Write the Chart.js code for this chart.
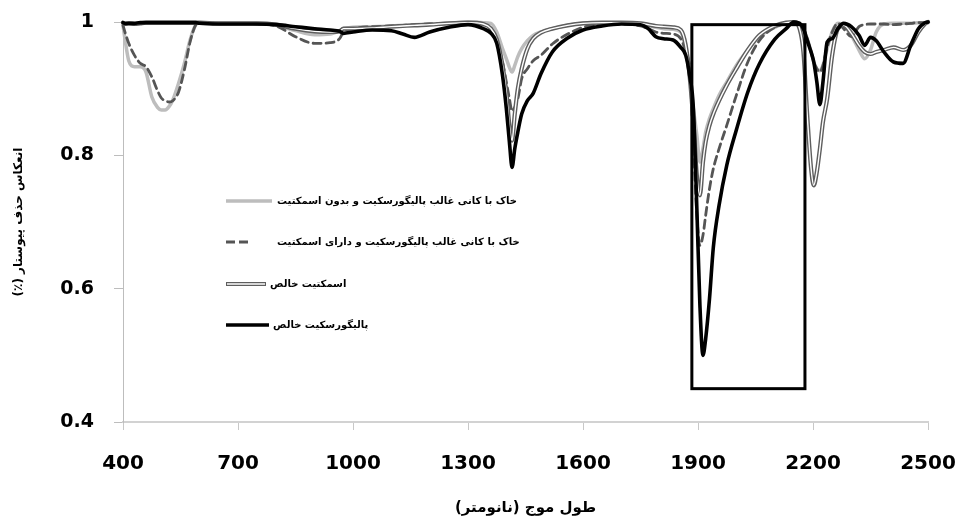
<!DOCTYPE html>
<html>
<head>
<meta charset="utf-8">
<script src="https://cdn.jsdelivr.net/npm/chart.js@4.4.0/dist/chart.umd.min.js"></script>
<style>
  html, body { margin: 0; padding: 0; background: #ffffff; }
  canvas { display: block; }
</style>
</head>
<body>
<canvas id="spectra" width="958" height="518"></canvas>
<script>
// Wavelength sampling grid (nm)
const wavelengths = [
  400, 405, 415, 430, 445, 460, 475, 490, 500, 510,
  520, 530, 545, 560, 575, 590, 600, 650, 700, 750,
  800, 850, 900, 940, 965, 975, 1000, 1050, 1100, 1130,
  1160, 1200, 1250, 1300, 1340, 1360, 1375, 1390, 1400, 1408,
  1415, 1422, 1430, 1440, 1455, 1470, 1490, 1520, 1560, 1600,
  1650, 1700, 1750, 1770, 1790, 1810, 1835, 1855, 1868, 1878,
  1888, 1897, 1905, 1913, 1920, 1930, 1940, 1955, 1975, 2000,
  2030, 2060, 2100, 2130, 2150, 2165, 2175, 2185, 2195, 2202,
  2210, 2218, 2226, 2237, 2250, 2265, 2280, 2300, 2320, 2335,
  2350, 2365, 2385, 2410, 2435, 2455, 2475, 2490, 2500
];

// Continuum-removed reflectance, soil dominated by palygorskite, no smectite
const soilNoSmectite = [
  0.995, 0.975, 0.942, 0.933, 0.933, 0.925, 0.888, 0.872, 0.868, 0.868,
  0.873, 0.883, 0.908, 0.938, 0.973, 0.996, 0.999, 0.998, 0.998, 0.998,
  0.995, 0.987, 0.981, 0.982, 0.987, 0.990, 0.992, 0.993, 0.994, 0.995,
  0.996, 0.997, 0.998, 1.000, 0.999, 0.998, 0.985, 0.960, 0.945, 0.932,
  0.925, 0.935, 0.948, 0.960, 0.972, 0.980, 0.985, 0.990, 0.995, 0.998,
  0.999, 0.999, 0.997, 0.995, 0.992, 0.990, 0.989, 0.985, 0.960, 0.920,
  0.870, 0.830, 0.790, 0.810, 0.835, 0.855, 0.870, 0.890, 0.910, 0.935,
  0.958, 0.978, 0.992, 0.998, 1.000, 0.998, 0.990, 0.975, 0.955, 0.940,
  0.930, 0.927, 0.935, 0.960, 0.985, 0.998, 0.995, 0.980, 0.958, 0.945,
  0.958, 0.985, 0.997, 0.998, 0.998, 0.998, 0.999, 0.999, 1.000
];

// Soil dominated by palygorskite, containing smectite
const soilWithSmectite = [
  0.995, 0.985, 0.968, 0.950, 0.938, 0.933, 0.918, 0.897, 0.886, 0.882,
  0.880, 0.882, 0.895, 0.928, 0.970, 0.996, 0.999, 0.998, 0.998, 0.997,
  0.994, 0.978, 0.968, 0.969, 0.975, 0.985, 0.990, 0.993, 0.994, 0.995,
  0.996, 0.997, 0.998, 0.999, 0.996, 0.990, 0.972, 0.940, 0.910, 0.885,
  0.866, 0.872, 0.885, 0.915, 0.930, 0.942, 0.950, 0.967, 0.982, 0.992,
  0.996, 0.997, 0.994, 0.990, 0.985, 0.983, 0.982, 0.975, 0.955, 0.930,
  0.820, 0.710, 0.665, 0.680, 0.710, 0.750, 0.780, 0.810, 0.845, 0.890,
  0.940, 0.972, 0.992, 0.998, 1.000, 0.998, 0.990, 0.975, 0.955, 0.940,
  0.930, 0.925, 0.935, 0.962, 0.985, 0.998, 0.990, 0.978, 0.993, 0.996,
  0.997, 0.997, 0.997, 0.996, 0.997, 0.998, 0.999, 0.999, 1.000
];

// Pure smectite
const pureSmectite = [
  0.999, 0.997, 0.998, 0.997, 0.998, 0.999, 0.999, 0.999, 0.999, 0.999,
  0.999, 0.999, 0.999, 0.999, 0.999, 0.999, 0.999, 0.998, 0.998, 0.998,
  0.996, 0.990, 0.986, 0.985, 0.986, 0.990, 0.990, 0.991, 0.993, 0.994,
  0.995, 0.996, 0.998, 0.999, 0.997, 0.990, 0.974, 0.935, 0.895, 0.845,
  0.822, 0.862, 0.900, 0.930, 0.960, 0.975, 0.984, 0.990, 0.995, 0.998,
  0.999, 0.999, 0.998, 0.996, 0.994, 0.993, 0.992, 0.988, 0.965, 0.920,
  0.850, 0.770, 0.740, 0.790, 0.820, 0.845, 0.862, 0.882, 0.905, 0.930,
  0.958, 0.980, 0.994, 0.999, 1.000, 0.990, 0.955, 0.860, 0.780, 0.755,
  0.775, 0.810, 0.850, 0.885, 0.950, 0.990, 0.995, 0.983, 0.965, 0.955,
  0.952, 0.955, 0.958, 0.962, 0.958, 0.965, 0.985, 0.996, 1.000
];

// Pure palygorskite
const purePalygorskite = [
  0.999, 0.998, 0.998, 0.998, 0.999, 0.999, 0.999, 0.999, 0.999, 0.999,
  0.999, 0.999, 0.999, 0.999, 0.999, 0.999, 0.998, 0.997, 0.997, 0.997,
  0.996, 0.993, 0.990, 0.988, 0.986, 0.983, 0.985, 0.988, 0.987, 0.982,
  0.977, 0.985, 0.992, 0.996, 0.990, 0.983, 0.968, 0.920, 0.870, 0.820,
  0.782, 0.810, 0.835, 0.862, 0.882, 0.893, 0.922, 0.955, 0.976, 0.988,
  0.994, 0.997, 0.996, 0.990, 0.978, 0.975, 0.973, 0.962, 0.950, 0.920,
  0.870, 0.720, 0.575, 0.500, 0.525, 0.585, 0.662, 0.725, 0.785, 0.838,
  0.895, 0.937, 0.974, 0.990, 1.000, 0.998, 0.990, 0.972, 0.955, 0.940,
  0.910, 0.876, 0.910, 0.970, 0.975, 0.990, 0.998, 0.993, 0.980, 0.965,
  0.977, 0.972, 0.955, 0.940, 0.938, 0.965, 0.990, 0.998, 1.000
];

const seriesLabels = [
  'خاک با کانی غالب پالیگورسکیت و بدون اسمکتیت',
  'خاک با کانی غالب پالیگورسکیت و دارای اسمکتیت',
  'اسمکتیت خالص',
  'پالیگورسکیت خالص'
];

const xTickValues = [400, 700, 1000, 1300, 1600, 1900, 2200, 2500];
const yTickValues = [0.4, 0.6, 0.8, 1];

// Right-to-left marks keep the bracketed parts on the correct side
const RLM = '\u200F';
const xAxisTitle = RLM + 'طول موج (نانومتر)' + RLM;
const yAxisTitle = RLM + 'انعکاس حذف پیوستار (٪)' + RLM;

// Framed region around the 1900–2200 nm absorption features
const highlightWavelengths = [1884, 2179];
const highlightReflectance = [0.45, 0.996];

const FONT = '"DejaVu Sans", "Noto Sans", sans-serif';

const toPoints = values => wavelengths.map((w, i) => ({ x: w, y: values[i] }));

// Redraws a thin light stroke along the centre of a line, giving a double-line look
const doubleLine = {
  id: 'doubleLine',
  afterDatasetDraw(chart, args) {
    const ds = chart.data.datasets[args.index];
    if (!ds.innerLineColor) return;
    const line = args.meta.dataset;
    const ctx = chart.ctx;
    const a = chart.chartArea;
    ctx.save();
    ctx.beginPath();
    ctx.rect(a.left, a.top - 6, a.right - a.left, a.bottom - a.top + 12);
    ctx.clip();
    ctx.beginPath();
    line.path(ctx);
    ctx.lineWidth = ds.innerLineWidth;
    ctx.strokeStyle = ds.innerLineColor;
    ctx.lineJoin = 'round';
    ctx.lineCap = 'round';
    ctx.stroke();
    ctx.restore();
  }
};

// Rectangle around a wavelength / reflectance window
const highlightBox = {
  id: 'highlightBox',
  afterDatasetsDraw(chart) {
    const { x, y } = chart.scales;
    const ctx = chart.ctx;
    const left = x.getPixelForValue(highlightWavelengths[0]);
    const right = x.getPixelForValue(highlightWavelengths[1]);
    const top = y.getPixelForValue(highlightReflectance[1]);
    const bottom = y.getPixelForValue(highlightReflectance[0]);
    ctx.save();
    ctx.strokeStyle = '#000000';
    ctx.lineWidth = 3;
    ctx.strokeRect(left, top, right - left, bottom - top);
    ctx.restore();
  }
};

// Legend drawn inside the plot area
const insideLegend = {
  id: 'insideLegend',
  afterDraw(chart, args, opts) {
    const ctx = chart.ctx;
    chart.data.datasets.forEach((ds, i) => {
      const y = opts.rowY[i];
      const x0 = opts.sampleX;
      const x1 = x0 + opts.sampleLength[i];
      ctx.save();
      ctx.lineCap = 'butt';
      ctx.strokeStyle = ds.borderColor;
      ctx.lineWidth = ds.borderWidth;
      ctx.setLineDash(ds.legendDash || ds.borderDash || []);
      ctx.beginPath();
      ctx.moveTo(x0, y);
      ctx.lineTo(x1, y);
      ctx.stroke();
      ctx.setLineDash([]);
      if (ds.innerLineColor) {
        ctx.strokeStyle = ds.innerLineColor;
        ctx.lineWidth = ds.innerLineWidth;
        ctx.beginPath();
        ctx.moveTo(x0 + 1, y);
        ctx.lineTo(x1 - 1, y);
        ctx.stroke();
      }
      ctx.fillStyle = '#000000';
      ctx.font = opts.font;
      ctx.textAlign = 'left';
      ctx.textBaseline = 'middle';
      ctx.fillText(ds.label, opts.textX[i], y);
      ctx.restore();
    });
  }
};

new Chart(document.getElementById('spectra'), {
  type: 'line',
  data: {
    datasets: [
      {
        label: seriesLabels[0],
        data: toPoints(soilNoSmectite),
        borderColor: '#bdbdbd',
        borderWidth: 3.5,
        order: 3
      },
      {
        label: seriesLabels[1],
        data: toPoints(soilWithSmectite),
        borderColor: '#555555',
        borderWidth: 2.8,
        borderDash: [8, 5],
        legendDash: [9, 4, 9, 40],
        order: 2
      },
      {
        label: seriesLabels[2],
        data: toPoints(pureSmectite),
        borderColor: '#5e5e5e',
        borderWidth: 4.2,
        innerLineColor: '#ffffff',
        innerLineWidth: 1.4,
        order: 1
      },
      {
        label: seriesLabels[3],
        data: toPoints(purePalygorskite),
        borderColor: '#000000',
        borderWidth: 3.6,
        order: 0
      }
    ]
  },
  options: {
    responsive: false,
    animation: false,
    devicePixelRatio: 1,
    layout: { padding: { left: 0, right: 30, top: 22, bottom: 0 } },
    datasets: { line: { clip: 6 } },
    elements: {
      point: { radius: 0, hoverRadius: 0 },
      line: {
        cubicInterpolationMode: 'monotone',
        borderJoinStyle: 'round',
        borderCapStyle: 'round',
        fill: false
      }
    },
    scales: {
      x: {
        type: 'linear',
        min: 400,
        max: 2500,
        afterBuildTicks: s => { s.ticks = xTickValues.map(v => ({ value: v })); },
        afterFit: s => { s.height = 96; s.paddingLeft = 0; s.paddingRight = 0; },
        grid: { drawOnChartArea: false, drawTicks: true, tickLength: 8, color: '#c8c8c8', tickColor: '#c8c8c8' },
        border: { color: '#d2d2d2', width: 2 },
        ticks: {
          font: { family: FONT, size: 20, weight: 'bold' },
          color: '#000000',
          padding: 22,
          maxRotation: 0,
          autoSkip: false,
          callback: v => String(v)
        },
        title: {
          display: true,
          text: xAxisTitle,
          color: '#000000',
          font: { family: FONT, size: 15, weight: 'bold' },
          padding: { top: 0, bottom: 1 }
        }
      },
      y: {
        type: 'linear',
        min: 0.4,
        max: 1,
        afterBuildTicks: s => { s.ticks = yTickValues.map(v => ({ value: v })); },
        afterFit: s => { s.width = 123; s.paddingTop = 0; s.paddingBottom = 0; },
        grid: { drawOnChartArea: false, drawTicks: true, tickLength: 9, color: '#bdbdbd', tickColor: '#bdbdbd' },
        border: { color: '#bdbdbd', width: 1 },
        ticks: {
          font: { family: FONT, size: 19, weight: 'bold' },
          color: '#000000',
          padding: 20,
          callback: v => String(Number(v.toFixed(1)))
        },
        title: {
          display: true,
          text: yAxisTitle,
          color: '#000000',
          font: { family: FONT, size: 12, weight: 'bold' },
          padding: { top: 12, bottom: 0 }
        }
      }
    },
    plugins: {
      legend: { display: false },
      tooltip: { enabled: false },
      insideLegend: {
        rowY: [201, 242, 284, 325],
        sampleX: 226,
        sampleLength: [46, 46, 40, 43],
        textX: [277, 277, 270, 273],
        font: 'bold 10px ' + FONT
      }
    }
  },
  plugins: [doubleLine, highlightBox, insideLegend]
});
</script>
</body>
</html>
